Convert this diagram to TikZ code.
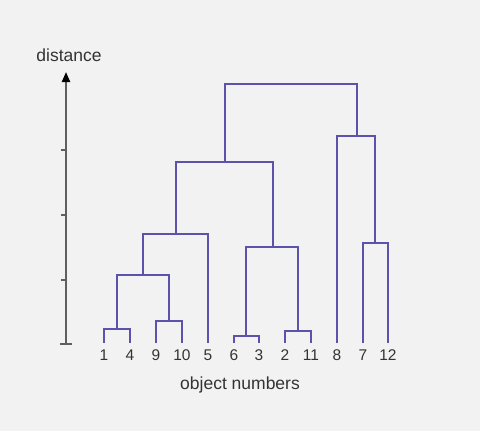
\documentclass[tikz,border=0pt]{standalone}
\usepackage{fontspec}
\setmainfont{Liberation Sans}
\usepackage{tikz}
\usetikzlibrary{arrows.meta,positioning}

\definecolor{linkcol}{RGB}{92,82,172}
\definecolor{axiscol}{RGB}{95,95,95}
\definecolor{bgcol}{RGB}{242,242,242}

\begin{document}
\begin{tikzpicture}[x=1pt,y=-1pt]
		\tikzstyle{Leaf}	= [inner sep=0pt, font=\fontsize{15.5}{15.5}\selectfont, text=black!80]
		\tikzstyle{Title}	= [inner sep=0pt, font=\fontsize{17.5}{17.5}\selectfont, text=black!80]
		\tikzstyle{Link}	= [line width=2pt, linkcol]
		\tikzstyle{Axis}	= [line width=2pt, axiscol]

		\fill [bgcol] (0,0) rectangle (480,431);
		\useasboundingbox (0,0) rectangle (480,431);

		% leaves
		\coordinate (l1)  at (104,343);
		\coordinate (l4)  at (130,343);
		\coordinate (l9)  at (156,343);
		\coordinate (l10) at (182,343);
		\coordinate (l5)  at (208,343);
		\coordinate (l6)  at (234,343);
		\coordinate (l3)  at (259,343);
		\coordinate (l2)  at (285,343);
		\coordinate (l11) at (311,343);
		\coordinate (l8)  at (337,343);
		\coordinate (l7)  at (363,343);
		\coordinate (l12) at (388,343);

		\foreach \k in {1,4,9,10,5,6,3,2,11,8,7,12}
			\node (n\k) [Leaf, below=12pt of l\k, anchor=center] {\k};

		% merges
		\coordinate (m14)   at (117,329);
		\coordinate (m910)  at (169,321);
		\coordinate (mA)    at (143,275);
		\coordinate (mB)    at (176,234);
		\coordinate (m63)   at (246,336);
		\coordinate (m211)  at (298,331);
		\coordinate (mC)    at (273,247);
		\coordinate (mL)    at (225,162);
		\coordinate (m712)  at (375,243);
		\coordinate (mR)    at (357,136);
		\coordinate (mTop)  at (290,84);

		\draw [Link] (l1) |- (m14) -| (l4);
		\draw [Link] (l9) |- (m910) -| (l10);
		\draw [Link] (m14) |- (mA) -| (m910);
		\draw [Link] (mA) |- (mB) -| (l5);
		\draw [Link] (l6) |- (m63) -| (l3);
		\draw [Link] (l2) |- (m211) -| (l11);
		\draw [Link] (m63) |- (mC) -| (m211);
		\draw [Link] (mB) |- (mL) -| (mC);
		\draw [Link] (l7) |- (m712) -| (l12);
		\draw [Link] (l8) |- (mR) -| (m712);
		\draw [Link] (mL) |- (mTop) -| (mR);

		% axis
		\coordinate (a0) at (66,344);
		\coordinate (a1) at (66,72);
		\draw [Axis, -{Triangle[length=10pt,width=8pt,black]}] (a0) to (a1);
		\draw [Axis] (60,344) to (72,344);
		\foreach \t in {280,215,150}
			\draw [Axis, line width=1.2pt] (61,\t) to (66,\t);

		\node (ylab) at (69,55) [Title] {distance};
		\node (xlab) at (240,385) [Title] {object numbers};
	\end{tikzpicture}
\end{document}
